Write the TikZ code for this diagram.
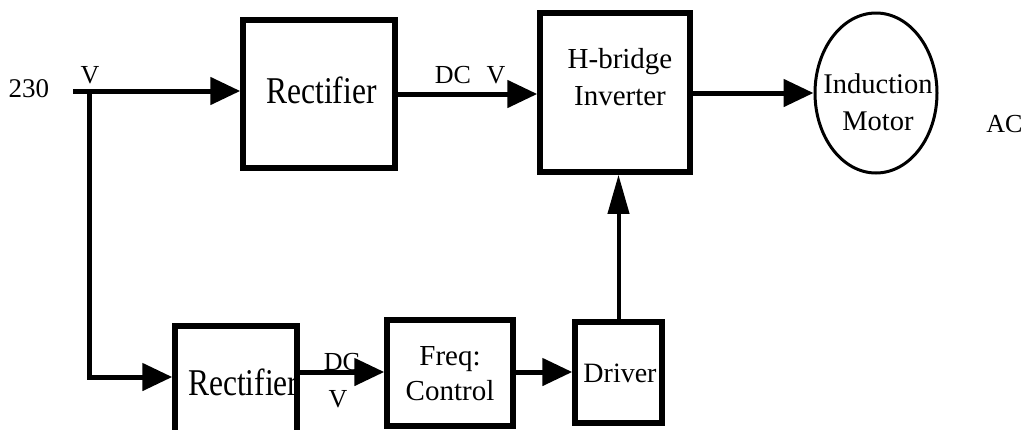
\documentclass[tikz,border=0pt]{standalone}
\usepackage{fontspec}
\setmainfont{Liberation Serif}
\usetikzlibrary{arrows.meta,shapes.geometric}
\newcommand{\vstretch}[1]{\scalebox{1}[1.2]{#1}}
\begin{document}
\begin{tikzpicture}[x=1pt,y=-1pt,
  blk/.style={draw,line width=5.5pt,rectangle,inner sep=0pt},
  conn/.style={line width=5pt},
  arr/.style={conn,-{Triangle[length=30pt,width=27pt]}},
  varr/.style={line width=4pt,-{Triangle[length=39pt,width=21pt]}},
  lbl/.style={inner sep=0pt,anchor=base,font=\fontsize{26}{28}\selectfont},
  txt/.style={inner sep=0pt,anchor=base,font=\fontsize{29}{35}\selectfont}]
\useasboundingbox (0,0) rectangle (1026,429);
\clip (0,0) rectangle (1026,429);
% boxes and their texts
\node[blk,minimum width=152pt,minimum height=148pt] (rect1) at (319,94) {};
\node[txt,font=\fontsize{31.5}{36}\selectfont] (rect1t) at (321.5,103) {\vstretch{Rectifier}};
\node[blk,minimum width=150pt,minimum height=159pt] (hbr) at (615,92.5) {};
\node[txt] (hbrt1) at (620,68) {H-bridge};
\node[txt] (hbrt2) at (620,105) {Inverter};
\node[draw,ellipse,line width=3pt,minimum width=122pt,minimum height=160pt,inner sep=0pt] (motor) at (876,93) {};
\node[txt,font=\fontsize{28.5}{35}\selectfont] (motort1) at (878,93) {Induction};
\node[txt,font=\fontsize{28.5}{35}\selectfont] (motort2) at (878,130) {Motor};
\node[txt,anchor=base west,font=\fontsize{31.5}{36}\selectfont] (rect2t) at (188,395) {\vstretch{Rectifier}};
\node[blk,minimum width=122pt,minimum height=114pt] (rect2) at (236,383) {};
\node[blk,minimum width=126pt,minimum height=106pt] (freq) at (450,373) {};
\node[txt] (freqt1) at (450,365) {Freq:};
\node[txt] (freqt2) at (450,400) {Control};
\node[blk,minimum width=87pt,minimum height=101pt] (drv) at (618.5,372.5) {};
\node[txt,font=\fontsize{28}{35}\selectfont] (drvt) at (620,382) {Driver};
% labels
\node[lbl,font=\fontsize{27}{30}\selectfont] (l230) at (29,97) {230};
\node[lbl] (lv) at (90,83) {V};
\node[lbl] (ldc) at (453,83) {DC};
\node[lbl] (ldcv) at (496,83) {V};
\node[lbl] (ldc2) at (342,370) {DC};
\node[lbl] (lv2) at (338,407) {V};
\node[lbl] (lac) at (1004.5,132) {AC};
% connectors
\coordinate (in) at (73,91);
\coordinate (jn) at (89,91);
\coordinate (corner) at (89,377);
\coordinate (y94) at (0,94);
\coordinate (y372) at (0,372);
\draw[arr] (in) -- (rect1.west |- in);
\draw[conn,line cap=rect] (jn) -- (corner);
\draw[arr] (corner) -- (rect2.west |- corner);
\draw[arr] (rect1.east |- y94) -- (hbr.west |- y94);
\draw[arr] (hbr.east |- motor.west) -- (motor.west);
\draw[arr] (rect2.east |- y372) -- (freq.west |- y372);
\draw[arr] (freq.east |- y372) -- (drv.west |- y372);
\draw[varr] (drv.north) -- (hbr.south -| drv.north);
\end{tikzpicture}
\end{document}
